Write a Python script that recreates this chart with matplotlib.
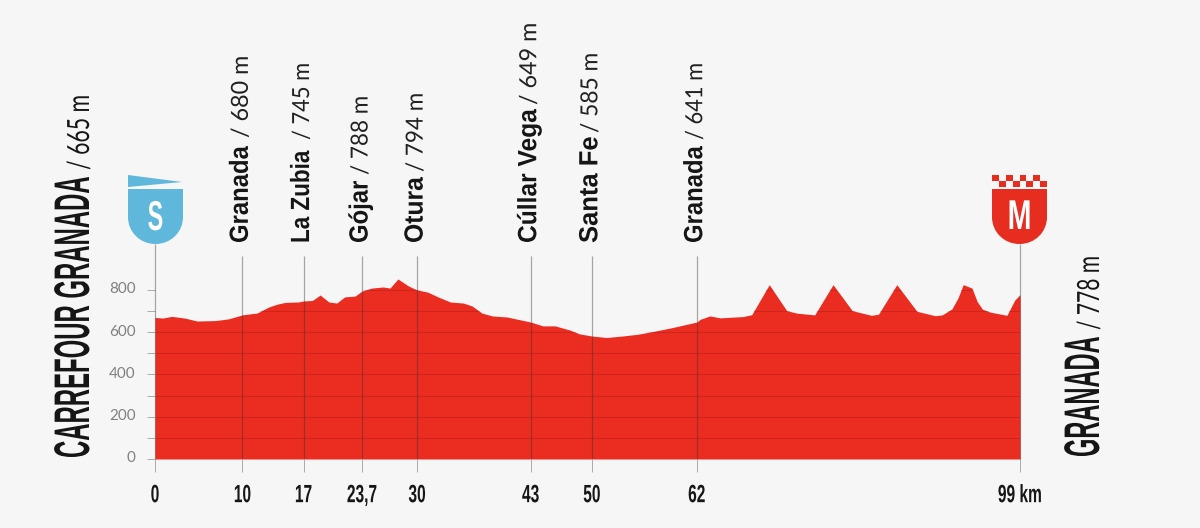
import matplotlib
matplotlib.use("Agg")
import matplotlib.pyplot as plt
from matplotlib.patheffects import AbstractPathEffect
from matplotlib.transforms import Affine2D, ScaledTranslation
from matplotlib.textpath import TextPath
from matplotlib.font_manager import FontProperties
from matplotlib.path import Path
from matplotlib.patches import PathPatch, Polygon, Rectangle

# ---------- data ----------
km = [0, 0.9, 1.9, 3.4, 4.8, 6.9, 8.4, 10, 11.7, 13, 14, 14.9, 16.4, 17, 18, 18.9, 19.9, 20.8,
      21.7, 22.9, 23.7, 24.8, 26.1, 26.9, 27.8, 29, 30, 31.2, 32.4, 33.8, 35.3, 36.3, 37.4,
      38.6, 40.3, 43, 44.4, 45.8, 47.5, 48.6, 50, 51.7, 53.5, 55.2, 56.7, 59, 62, 62.4, 63.5,
      64.7, 67.3, 68.3, 70.3, 72.3, 73.5, 75.5, 77.6, 79.8, 82, 82.8, 84.9, 87.2, 89.3, 90.1,
      91.2, 91.9, 92.5, 93.5, 94.1, 94.7, 95.6, 97.5, 98.4, 99]
elevation = [670, 667, 675, 667, 653, 655, 663, 682, 691, 719, 733, 741, 743, 748, 750, 776, 743, 738,
             767, 771, 795, 809, 814, 809, 852, 819, 800, 790, 767, 743, 738, 724, 691,
             677, 672, 648, 630, 630, 610, 592, 582, 575, 582, 590, 601, 620, 648, 661, 677,
             668, 674, 683, 825, 702, 690, 682, 825, 702, 680, 685, 825, 699, 678, 682,
             710, 762, 825, 809, 745, 709, 695, 680, 752, 778]
stop_km = [10, 17, 23.7, 30, 43, 50, 62]
stop_tick_labels = ["10", "17", "23,7", "30", "43", "50", "62"]
stop_names = ["Granada", "La Zubia", "Gójar", "Otura", "Cúllar Vega", "Santa Fe", "Granada"]
stop_alts = ["/ 680 m", "/ 745 m", "/ 788 m", "/ 794 m", "/ 649 m", "/ 585 m", "/ 641 m"]
y_ticks = [0, 100, 200, 300, 400, 500, 600, 700, 800]
y_tick_labels = ["0", "", "200", "", "400", "", "600", "", "800"]
start_name, start_alt = "CARREFOUR GRANADA", "/ 665 m"
finish_name, finish_alt = "GRANADA", "/ 778 m"

BG = "#f6f6f6"
RED = "#ea2c21"
BLUE = "#5fb7dc"
W, H = 1200, 528


class Stretch(AbstractPathEffect):
    """Stretches a real text's glyphs about a fraction of its run, and about its baseline."""
    def __init__(self, sx=1.0, sy=1.0, anchor=0.0):
        super().__init__()
        self.sx, self.sy, self.anchor = sx, sy, anchor

    def draw_path(self, renderer, gc, tpath, affine, rgbFace=None):
        e = tpath.get_extents()
        x0 = e.x0 + self.anchor * e.width
        a = Affine2D().translate(-x0, 0).scale(self.sx, self.sy).translate(x0, 0) + affine
        renderer.draw_path(gc, tpath, a, rgbFace)


def fp(family, weight, size):
    return FontProperties(family=family, weight=weight, size=size)


def run_px(s, prop):
    return TextPath((0, 0), s, prop=prop).get_extents().width * 100 / 72


fig = plt.figure(figsize=(W / 100, H / 100), dpi=100, facecolor=BG)
L, R, B, T = 155, 1020, 459, 244
ax = fig.add_axes([L / W, 1 - B / H, (R - L) / W, (B - T) / H], facecolor="none")
ax.set_xlim(0, 99)
ax.set_ylim(0, (B - T) / 0.2113)
for s in ax.spines.values():
    s.set_visible(False)

fill = ax.fill_between(km, elevation, 0, color=RED, lw=0, zorder=1)
grid = ax.hlines(y_ticks, 0, 99, color="#7a0f08", alpha=0.25, lw=0.7, zorder=2)
clip = Path(list(zip([0] + km + [99], [0] + elevation + [0])))
grid.set_clip_path(clip, ax.transData)

top_stop = (B - 256) / 0.2113
ax.vlines(stop_km, 0, top_stop, color="#333333", alpha=0.42, lw=0.9, zorder=3)
ax.vlines([0, 99], 0, ax.get_ylim()[1], color="#333333", alpha=0.42, lw=0.9, zorder=3, clip_on=False)

ax.set_yticks(y_ticks, y_tick_labels)
ax.tick_params(axis="y", length=5.8, width=0.7, color="#aaaaaa", pad=8, labelcolor="#808080")
ylab_prop = fp("Lato", "normal", 11)
up = ScaledTranslation(0, 2 / 100, fig.dpi_scale_trans)
for lab in ax.get_yticklabels():
    lab.set_fontproperties(ylab_prop)
    lab.set_transform(lab.get_transform() + up)

x_ticks = [0] + stop_km + [99]
x_labels = ["0"] + stop_tick_labels + ["99 km"]
ax.set_xticks(x_ticks, x_labels)
ax.tick_params(axis="x", length=9.4, width=0.7, color="#aaaaaa", pad=8, labelcolor="#161616")
xlab_prop = fp("Liberation Sans", "bold", 18)
for lab in ax.get_xticklabels():
    lab.set_fontproperties(xlab_prop)
    lab.set_path_effects([Stretch(0.62, 1.0, 0.5)])

# overlay in pixel units for annotations and badges
ov = fig.add_axes([0, 0, 1, 1], facecolor="none")
ov.set_xlim(0, W)
ov.set_ylim(H, 0)
ov.axis("off")


def vtext(x, y, s, family, weight, cap_px, length, color="#161616"):
    # font size chosen so the text's natural run equals its length; glyphs then grow to cap height
    size = 10 * length / run_px(s, fp(family, weight, 10))
    prop = fp(family, weight, size)
    ov.text(x, y, s, rotation=90, rotation_mode="anchor", ha="left", va="baseline",
            fontproperties=prop, color=color,
            path_effects=[Stretch(1.0, cap_px / size)])


name_spans = [(243, 147), (243, 152), (243, 182), (243, 178), (243, 110), (243, 138), (243, 147)]
alt_spans = [(138, 58), (140, 65), (175, 98), (172, 95), (105, 25), (133, 55), (140, 65)]
for k, nm, alt, ns, asp in zip(stop_km, stop_names, stop_alts, name_spans, alt_spans):
    xb = L + k * (R - L) / 99 + 5.5
    vtext(xb, ns[0], nm, "Liberation Sans", "bold", 19, ns[0] - ns[1])
    vtext(xb, asp[0], alt, "Lato", "normal", 17, asp[0] - asp[1], "#222222")

vtext(89, 458, start_name, "Liberation Sans", "bold", 36, 280)
vtext(89, 170, start_alt, "Lato", "normal", 22, 73)
vtext(1099, 457, finish_name, "Liberation Sans", "bold", 36, 119)
vtext(1099, 330, finish_alt, "Lato", "normal", 22, 72)


def shield(x0, x1, y0, y1, color):
    xc = (x0 + x1) / 2
    verts = [(x0, y0), (x1, y0), (x1, 217), (x1, 232), (x1 - 12, y1), (xc, y1),
             (x0 + 12, y1), (x0, 232), (x0, 217), (x0, y0)]
    codes = [Path.MOVETO, Path.LINETO, Path.LINETO, Path.CURVE4, Path.CURVE4, Path.CURVE4,
             Path.CURVE4, Path.CURVE4, Path.CURVE4, Path.CLOSEPOLY]
    ov.add_patch(PathPatch(Path(verts, codes), facecolor=color, edgecolor="none"))


shield(128, 183, 189, 244, BLUE)
ov.add_patch(Polygon([(128, 175), (182, 182), (128, 187)], facecolor=BLUE, edgecolor="none"))
shield(992, 1047, 189, 244, "#e62d20")
for i in range(4):
    ov.add_patch(Rectangle((992 + 13.75 * i, 175), 6.9, 6, facecolor="#e62d20", edgecolor="none"))
    ov.add_patch(Rectangle((998.9 + 13.75 * i, 181), 6.9, 6, facecolor="#e62d20", edgecolor="none"))

badge_prop = fp("Liberation Sans", "bold", 30)
ov.text(155.5, 230, "S", ha="center", va="baseline", color="white", fontproperties=badge_prop,
        path_effects=[Stretch(14 / run_px("S", badge_prop), 1.0, 0.5)])
ov.text(1019.5, 229, "M", ha="center", va="baseline", color="white", fontproperties=badge_prop,
        path_effects=[Stretch(20 / run_px("M", badge_prop), 1.0, 0.5)])

fig.savefig("out.png", dpi=100, facecolor=BG)
